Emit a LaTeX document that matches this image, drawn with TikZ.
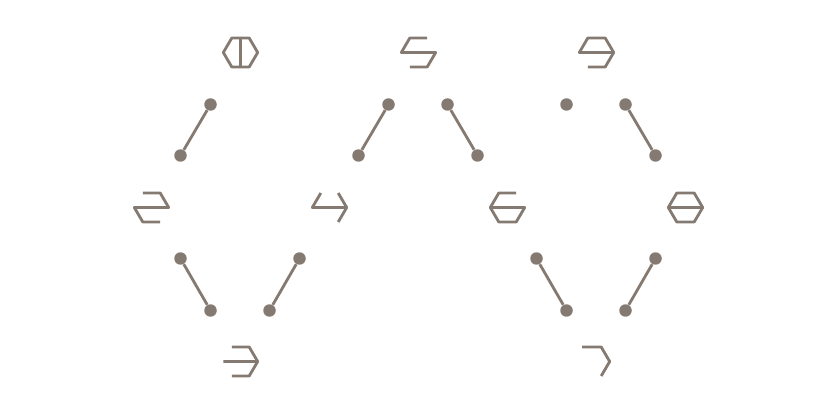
\documentclass[tikz,border=0pt]{standalone}
\usepackage{tikz}
\definecolor{glyphColor}{RGB}{133,122,114}
\tikzstyle{glyphBoard} = [x = .02cm, y = -.02cm]
\tikzstyle{glyphLine} = [color=glyphColor, line width=1.6pt, line join=round, line cap=butt]
\tikzstyle{linkLine} = [color=glyphColor, line width=1.6pt]
\tikzstyle{linkDot} = [circle, fill=glyphColor, inner sep=0pt, minimum size=.25cm]
\newcommand{\hexPoints}{
  \coordinate (L) at (-17.2,0);
  \coordinate (R) at (17.2,0);
  \coordinate (TL) at (-8.7,-14.5);
  \coordinate (TR) at (8.7,-14.5);
  \coordinate (BL) at (-8.7,14.5);
  \coordinate (BR) at (8.7,14.5);
  \coordinate (TC) at (0,-14.5);
  \coordinate (BC) at (0,14.5);
  \coordinate (TX) at (-10.5,-14.5);
}
\newcommand{\glyphAt}[3]{
  \begin{scope}[shift={(#1,#2)}]
    \hexPoints
    \draw [glyphLine] #3;
  \end{scope}
}
\newcommand{\linkDots}[6]{
  \node [linkDot] (#1) at (#2,#3) {};
  \node [linkDot] (#4) at (#5,#6) {};
  \draw [linkLine] (#1) -- (#4);
}
\begin{document}
\begin{tikzpicture}[glyphBoard]
  \useasboundingbox (-.5,-.5) rectangle (834.5,414.5);
  % glyphs, top row
  \glyphAt{240}{52}{(L) -- (TL) -- (TR) -- (R) -- (BR) -- (BL) -- cycle (TC) -- (BC)}
  \glyphAt{418}{52}{(TR) -- (TL) -- (L) -- (R) -- (BR) -- (BL)}
  \glyphAt{596}{52}{(BL) -- (BR) -- (R) -- (TR) -- (TL) -- (L) -- (R)}
  % glyphs, middle row
  \glyphAt{151}{207}{(TL) -- (TR) -- (R) -- (L) -- (BL) -- (BR)}
  \glyphAt{329}{207}{(TL) -- (L) -- (R) (TR) -- (R) -- (BR)}
  \glyphAt{507}{207}{(TR) -- (TL) -- (L) -- (BL) -- (BR) -- (R) -- (L)}
  \glyphAt{685}{207}{(L) -- (TL) -- (TR) -- (R) -- (BR) -- (BL) -- cycle (L) -- (R)}
  % glyphs, bottom row
  \glyphAt{240}{361}{(TL) -- (TR) -- (R) -- (BR) -- (BL) (L) -- (R)}
  \glyphAt{592}{361}{(TX) -- (TR) -- (R) -- (BR)}
  % links
  \linkDots{a1}{210}{104}{a2}{180}{155}
  \linkDots{b1}{388}{104}{b2}{358}{155}
  \linkDots{c1}{447}{104}{c2}{477}{155}
  \node [linkDot] (d1) at (566,104) {};
  \linkDots{e1}{625}{104}{e2}{655}{155}
  \linkDots{f1}{180}{258}{f2}{210}{310}
  \linkDots{g1}{299}{258}{g2}{269}{310}
  \linkDots{h1}{536}{258}{h2}{566}{310}
  \linkDots{i1}{655}{258}{i2}{625}{310}
\end{tikzpicture}
\end{document}
